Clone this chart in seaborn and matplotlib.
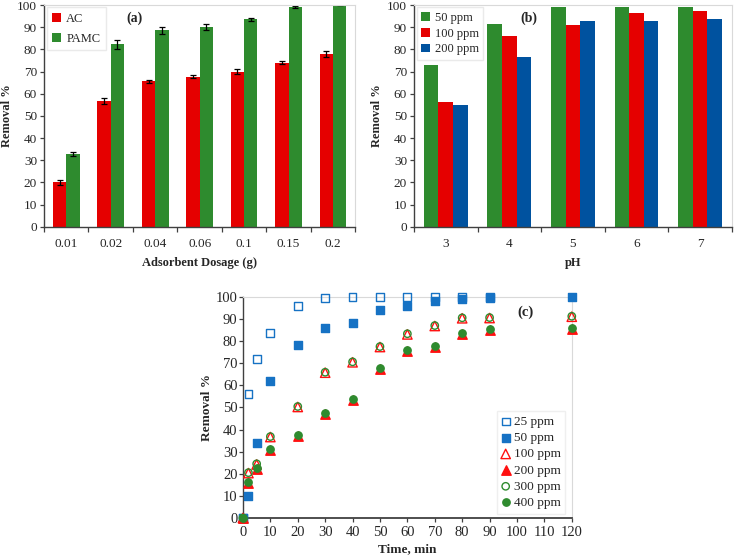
import numpy as np
import pandas as pd
import matplotlib
matplotlib.use("Agg")
import matplotlib.pyplot as plt
from matplotlib.ticker import FixedLocator
import seaborn as sns

# (a) effect of adsorbent dosage
dosage = ['0.01', '0.02', '0.04', '0.06', '0.1', '0.15', '0.2']
ac_removal = [20.0, 56.6, 65.6, 67.7, 70.0, 74.0, 77.9]
ac_err = [1.3, 1.4, 0.6, 0.6, 1.2, 0.6, 1.3]
pamc_removal = [32.8, 82.3, 88.6, 90.1, 93.5, 99.0, 100.0]
pamc_err = [0.9, 2.0, 1.5, 1.2, 0.6, 0.4, 0.2]

# (b) effect of pH
ph = ['3', '4', '5', '6', '7']
ppm50 = [73.0, 91.5, 99.3, 99.0, 99.0]
ppm100 = [56.5, 86.1, 90.9, 96.4, 97.4]
ppm200 = [55.0, 76.6, 92.9, 92.9, 93.9]

# (c) effect of contact time
time_min = [0, 2, 5, 10, 20, 30, 40, 50, 60, 70, 80, 90, 120]
c25 = [0, 56, 72, 83.7, 96, 99.4, 100, 100, 100, 100, 100, 100]   # no 120 min point
c50 = [0, 10, 34, 62, 78, 85.8, 88, 94, 96, 98, 99, 99.6, 100]
c100 = [0, 20.3, 24.2, 36.6, 50.2, 65.7, 70.4, 77.3, 83.0, 86.8, 90.3, 90.4, 91.0]
c200 = [0, 15.8, 22.2, 30.8, 37.0, 46.9, 53.4, 67.5, 75.7, 77.5, 83.1, 85.1, 85.5]
c300 = [0, 20.5, 24.5, 36.8, 50.4, 65.9, 70.6, 77.5, 83.3, 87.0, 90.5, 90.6, 91.2]
c400 = [0, 16.3, 22.6, 31.2, 37.4, 47.3, 53.8, 67.9, 76.1, 77.9, 83.5, 85.5, 85.8]

RED = '#E50000'
GREEN = '#2E8B2E'
BLUE = '#00529F'
BLUE_C = '#1672C4'
RED_C = '#FF1010'

sns.set_theme(style='white')
plt.rcParams['font.family'] = ['Liberation Serif', 'DejaVu Serif']
plt.rcParams['axes.edgecolor'] = '#404040'

fig = plt.figure(figsize=(7.34, 5.6), dpi=100)
ax_a = fig.add_axes([0.060, 0.595, 0.424, 0.396])
ax_b = fig.add_axes([0.564, 0.595, 0.433, 0.396])
ax_c = fig.add_axes([0.331, 0.075, 0.448, 0.395])


def style_axes(ax, categorical_n=None, tick_size=9.5):
    ax.set_ylim(0, 100)
    ax.set_yticks(np.arange(0, 101, 10))
    for s in ['top', 'right']:
        ax.spines[s].set_color('#D9D9D9')
        ax.spines[s].set_linewidth(0.8)
    for s in ['left', 'bottom']:
        ax.spines[s].set_color('#404040')
        ax.spines[s].set_linewidth(1.0)
    ax.tick_params(axis='y', direction='out', length=3, width=0.9, color='#404040',
                   labelsize=tick_size, pad=2, left=True)
    if categorical_n is not None:
        ax.set_xlim(-0.5, categorical_n - 0.5)
        ax.xaxis.set_minor_locator(FixedLocator(np.arange(-0.5, categorical_n, 1.0)))
        ax.tick_params(axis='x', which='major', length=0, labelsize=tick_size, pad=8)
        ax.tick_params(axis='x', which='minor', direction='out', length=3.5, width=0.9,
                       color='#404040', bottom=True)
    ax.grid(False)


# ---- (a) ----
df_a = pd.DataFrame({
    'dosage': dosage * 2,
    'removal': ac_removal + pamc_removal,
    'sample': ['AC'] * len(dosage) + ['PAMC'] * len(dosage),
})
sns.barplot(data=df_a, x='dosage', y='removal', hue='sample', order=dosage,
            palette=[RED, GREEN], width=0.6, errorbar=None, linewidth=0,
            saturation=1, ax=ax_a)
for cont, errs in zip(ax_a.containers, [ac_err, pamc_err]):
    xs = [p.get_x() + p.get_width() / 2 for p in cont]
    ys = [p.get_height() for p in cont]
    ax_a.errorbar(xs, ys, yerr=errs, fmt='none', ecolor='black', elinewidth=0.9,
                  capsize=2.2, capthick=0.9)
style_axes(ax_a, len(dosage))
ax_a.set_xlabel('Adsorbent Dosage (g)', fontsize=9, fontweight='bold', labelpad=5)
ax_a.set_ylabel('Removal %', fontsize=9, fontweight='bold', labelpad=3)
ax_a.legend(loc='upper left', bbox_to_anchor=(0.005, 0.995), fontsize=9, frameon=True,
            fancybox=False, edgecolor='#E5E5E5', handlelength=0.7, handleheight=0.7,
            handletextpad=0.4, labelspacing=0.6, borderpad=0.45, borderaxespad=0.1)
ax_a.text(0.29, 0.94, '(a)', transform=ax_a.transAxes, fontsize=10, fontweight='bold',
          ha='center', va='center')

# ---- (b) ----
df_b = pd.DataFrame({
    'pH': ph * 3,
    'removal': ppm50 + ppm100 + ppm200,
    'conc': ['50 ppm'] * 5 + ['100 ppm'] * 5 + ['200 ppm'] * 5,
})
sns.barplot(data=df_b, x='pH', y='removal', hue='conc', order=ph,
            palette=[GREEN, RED, BLUE], width=0.69, errorbar=None, linewidth=0,
            saturation=1, ax=ax_b)
style_axes(ax_b, len(ph))
ax_b.set_xlabel('pH', fontsize=9, fontweight='bold', labelpad=5)
ax_b.set_ylabel('Removal %', fontsize=9, fontweight='bold', labelpad=3)
ax_b.legend(loc='upper left', bbox_to_anchor=(0.005, 0.995), fontsize=9, frameon=True,
            fancybox=False, edgecolor='#E5E5E5', handlelength=0.7, handleheight=0.7,
            handletextpad=0.4, labelspacing=0.3, borderpad=0.35, borderaxespad=0.1)
ax_b.text(0.36, 0.94, '(b)', transform=ax_b.transAxes, fontsize=10, fontweight='bold',
          ha='center', va='center')

# ---- (c) ----
series_c = [
    ('25 ppm', time_min[:len(c25)], c25, 's', 'none', BLUE_C, 32),
    ('50 ppm', time_min, c50, 's', BLUE_C, BLUE_C, 32),
    ('100 ppm', time_min, c100, '^', 'none', RED_C, 46),
    ('200 ppm', time_min, c200, '^', RED_C, RED_C, 46),
    ('300 ppm', time_min, c300, 'o', 'none', GREEN, 28),
    ('400 ppm', time_min, c400, 'o', GREEN, GREEN, 28),
]
for label, xs, ys, mk, fc, ec, sz in series_c:
    sns.scatterplot(x=xs, y=ys, marker=mk, facecolor=fc, edgecolor=ec, linewidth=1.0,
                    s=sz, label=label, clip_on=False, zorder=3, ax=ax_c)
style_axes(ax_c, tick_size=10.5)
ax_c.tick_params(axis='y', pad=1)
ax_c.set_xlim(0, 120)
ax_c.set_xticks(np.arange(0, 121, 10))
ax_c.tick_params(axis='x', direction='out', length=3, width=0.9, color='#404040',
                 labelsize=10.5, pad=3, bottom=True)
ax_c.spines['bottom'].set_linewidth(1.3)
ax_c.set_xlabel('Time, min', fontsize=9.5, fontweight='bold', labelpad=3)
ax_c.set_ylabel('Removal %', fontsize=9.5, fontweight='bold', labelpad=2)
ax_c.legend(loc='lower right', bbox_to_anchor=(0.98, 0.02), fontsize=9.5, frameon=True,
            fancybox=False, edgecolor='#EBEBEB', handlelength=0.6, handletextpad=0.3,
            labelspacing=0.3, borderpad=0.35, borderaxespad=0.0, markerscale=1.0)
ax_c.text(0.86, 0.93, '(c)', transform=ax_c.transAxes, fontsize=10.5, fontweight='bold',
          ha='center', va='center')

fig.savefig('out.png', dpi=100)
